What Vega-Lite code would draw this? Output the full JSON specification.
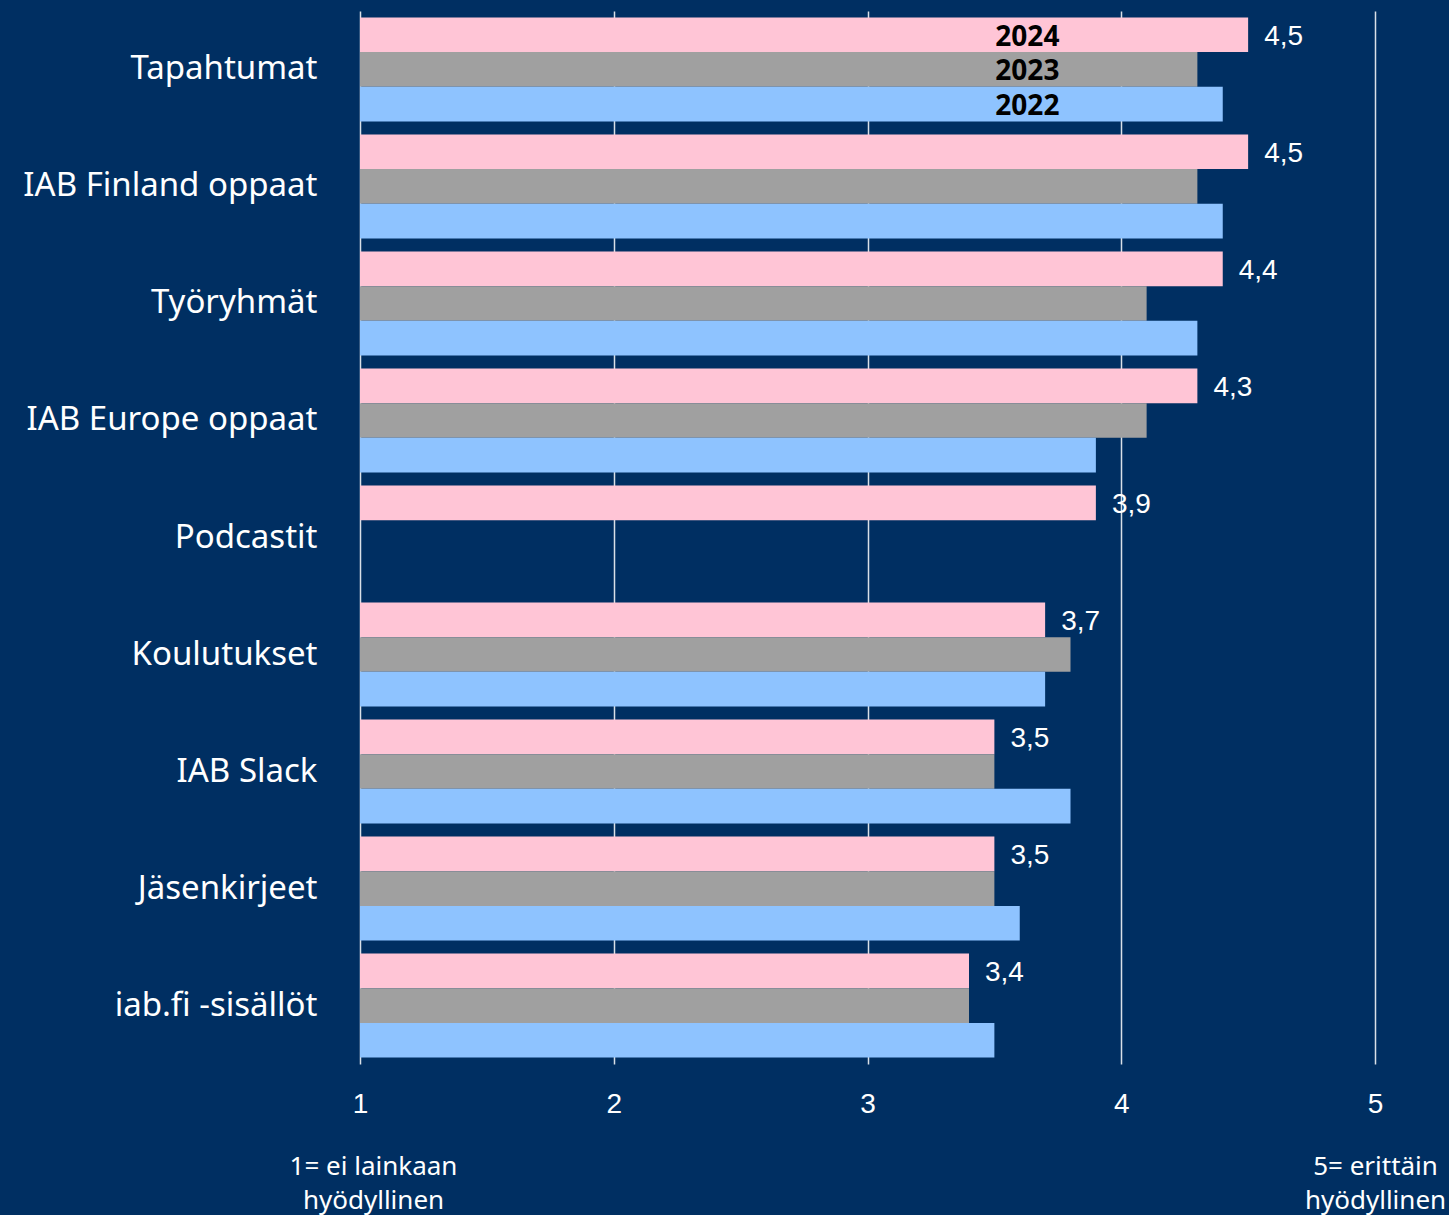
{
  "$schema": "https://vega.github.io/schema/vega-lite/v6.json",
  "autosize": "none",
  "width": 1015,
  "height": 1053,
  "padding": {"left": 360, "top": 11, "right": 74, "bottom": 151},
  "background": "#002F62",
  "config": {"view": {"stroke": null}},
  "data": {"values": [
    {"cat": "Tapahtumat", "year": "2024", "value": 4.5, "label": "4,5"},
    {"cat": "Tapahtumat", "year": "2023", "value": 4.3, "label": "4,3"},
    {"cat": "Tapahtumat", "year": "2022", "value": 4.4, "label": "4,4"},
    {"cat": "IAB Finland oppaat", "year": "2024", "value": 4.5, "label": "4,5"},
    {"cat": "IAB Finland oppaat", "year": "2023", "value": 4.3, "label": "4,3"},
    {"cat": "IAB Finland oppaat", "year": "2022", "value": 4.4, "label": "4,4"},
    {"cat": "Työryhmät", "year": "2024", "value": 4.4, "label": "4,4"},
    {"cat": "Työryhmät", "year": "2023", "value": 4.1, "label": "4,1"},
    {"cat": "Työryhmät", "year": "2022", "value": 4.3, "label": "4,3"},
    {"cat": "IAB Europe oppaat", "year": "2024", "value": 4.3, "label": "4,3"},
    {"cat": "IAB Europe oppaat", "year": "2023", "value": 4.1, "label": "4,1"},
    {"cat": "IAB Europe oppaat", "year": "2022", "value": 3.9, "label": "3,9"},
    {"cat": "Podcastit", "year": "2024", "value": 3.9, "label": "3,9"},
    {"cat": "Koulutukset", "year": "2024", "value": 3.7, "label": "3,7"},
    {"cat": "Koulutukset", "year": "2023", "value": 3.8, "label": "3,8"},
    {"cat": "Koulutukset", "year": "2022", "value": 3.7, "label": "3,7"},
    {"cat": "IAB Slack", "year": "2024", "value": 3.5, "label": "3,5"},
    {"cat": "IAB Slack", "year": "2023", "value": 3.5, "label": "3,5"},
    {"cat": "IAB Slack", "year": "2022", "value": 3.8, "label": "3,8"},
    {"cat": "Jäsenkirjeet", "year": "2024", "value": 3.5, "label": "3,5"},
    {"cat": "Jäsenkirjeet", "year": "2023", "value": 3.5, "label": "3,5"},
    {"cat": "Jäsenkirjeet", "year": "2022", "value": 3.6, "label": "3,6"},
    {"cat": "iab.fi -sisällöt", "year": "2024", "value": 3.4, "label": "3,4"},
    {"cat": "iab.fi -sisällöt", "year": "2023", "value": 3.4, "label": "3,4"},
    {"cat": "iab.fi -sisällöt", "year": "2022", "value": 3.5, "label": "3,5"}
  ]},
  "resolve": {"axis": {"x": "independent"}},
  "layer": [
    {
      "mark": {"type": "bar"},
      "encoding": {
        "y": {"field": "cat", "type": "nominal", "sort": null,
              "scale": {"paddingInner": 0.111, "paddingOuter": 0.055},
              "axis": {"title": null, "domain": false, "ticks": false, "labelPadding": 43,
                       "labelFont": "Noto Sans", "labelFontSize": 33, "labelColor": "#FFFFFF", "labelLimit": 400}},
        "yOffset": {"field": "year", "type": "nominal", "sort": ["2024", "2023", "2022"],
                    "scale": {"paddingInner": 0, "paddingOuter": 0}},
        "x": {"field": "value", "type": "quantitative",
              "scale": {"domain": [1, 5], "nice": false, "zero": false},
              "axis": {"title": null, "orient": "bottom", "values": [1, 2, 3, 4, 5], "format": "d", "grid": true,
                       "gridColor": "#FFFFFF", "gridOpacity": 0.85, "gridWidth": 1.5, "labelFlush": false,
                       "domain": false, "ticks": false, "labelPadding": 26,
                       "labelFont": "Liberation Sans", "labelFontSize": 28, "labelColor": "#FFFFFF"}},
        "x2": {"datum": 1},
        "color": {"field": "year", "type": "nominal",
                  "scale": {"domain": ["2024", "2023", "2022"], "range": ["#FFC5D6", "#A0A0A0", "#8EC3FF"]},
                  "legend": null}
      }
    },
    {
      "transform": [{"filter": "datum.year == '2024'"}],
      "mark": {"type": "text", "align": "left", "baseline": "middle", "dx": 16, "dy": 2,
               "font": "Liberation Sans", "fontSize": 28, "color": "#FFFFFF"},
      "encoding": {
        "y": {"field": "cat", "type": "nominal", "sort": null},
        "yOffset": {"field": "year", "type": "nominal", "sort": ["2024", "2023", "2022"]},
        "x": {"field": "value", "type": "quantitative",
              "axis": {"title": null, "orient": "bottom", "values": [1, 5], "grid": false, "domain": false, "ticks": false,
                       "labelFlush": false, "labelOverlap": false,
                       "labelOffset": {"condition": {"test": "datum.value == 1", "value": 13}, "value": 0},
                       "labelExpr": "datum.value == 1 ? ['1= ei lainkaan', 'hyödyllinen'] : ['5= erittäin', 'hyödyllinen']",
                       "labelPadding": 89, "labelLineHeight": 34,
                       "labelFont": "Noto Sans", "labelFontSize": 26, "labelColor": "#FFFFFF"}},
        "text": {"field": "label"}
      }
    },
    {
      "transform": [{"filter": "datum.cat == 'Tapahtumat'"}],
      "mark": {"type": "text", "align": "center", "baseline": "middle", "dy": 3,
               "font": "Noto Sans", "fontWeight": "bold", "fontSize": 28, "color": "#000000"},
      "encoding": {
        "y": {"field": "cat", "type": "nominal", "sort": null},
        "yOffset": {"field": "year", "type": "nominal", "sort": ["2024", "2023", "2022"]},
        "x": {"datum": 3.63, "type": "quantitative", "axis": null},
        "text": {"field": "year"}
      }
    }
  ]
}
